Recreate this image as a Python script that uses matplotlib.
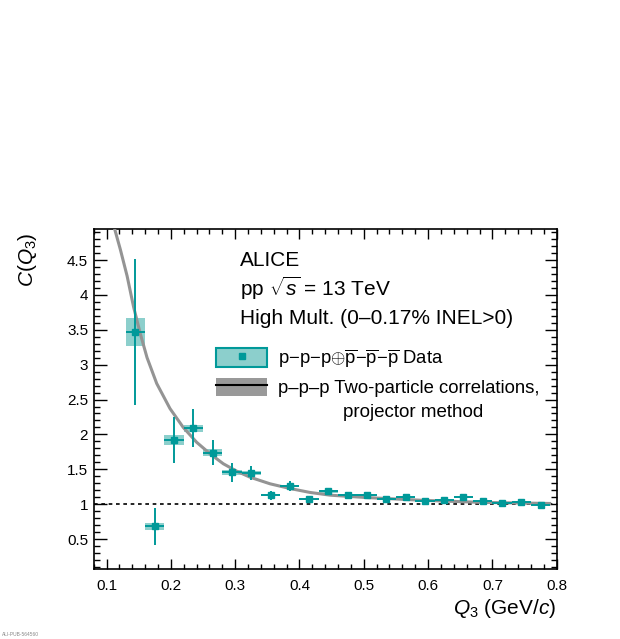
import matplotlib
matplotlib.use('Agg')
import numpy as np
from matplotlib import pyplot as plt
from matplotlib.patches import Patch
from matplotlib.lines import Line2D
from matplotlib.ticker import MultipleLocator, FuncFormatter

plt.rcParams['font.family'] = ['Liberation Sans', 'DejaVu Sans']
plt.rcParams['mathtext.fontset'] = 'custom'
plt.rcParams['mathtext.rm'] = 'Liberation Sans'
plt.rcParams['mathtext.it'] = 'Liberation Sans:italic'
plt.rcParams['mathtext.bf'] = 'Liberation Sans:bold'

# p-p-p (+) pbar-pbar-pbar data
q3 = [0.145, 0.175, 0.205, 0.235, 0.265, 0.295, 0.325, 0.355, 0.385, 0.415, 0.445,
      0.475, 0.505, 0.535, 0.565, 0.595, 0.625, 0.655, 0.685, 0.715, 0.745, 0.775]
c3 = [3.47, 0.686, 1.92, 2.09, 1.74, 1.455, 1.445, 1.13, 1.26, 1.078, 1.182,
      1.135, 1.135, 1.08, 1.105, 1.04, 1.055, 1.10, 1.045, 1.02, 1.025, 0.995]
stat = [1.05, 0.265, 0.33, 0.27, 0.18, 0.14, 0.10, 0.065, 0.065, 0.045, 0.03,
        0.025, 0.025, 0.025, 0.025, 0.02, 0.02, 0.025, 0.02, 0.02, 0.02, 0.02]
syst = [0.20, 0.05, 0.07, 0.05, 0.045, 0.03, 0.03, 0.02, 0.02, 0.015, 0.015,
        0.012, 0.012, 0.012, 0.012, 0.01, 0.01, 0.012, 0.01, 0.01, 0.01, 0.01]
bin_w = 0.03

# two-particle correlations, projector method
q3_proj = [0.112, 0.1215, 0.132, 0.142, 0.1526, 0.163, 0.178, 0.1987, 0.2193, 0.240,
           0.261, 0.2816, 0.3024, 0.323, 0.3542, 0.385, 0.4164, 0.4475, 0.504, 0.592,
           0.685, 0.789]
c3_proj = [4.965, 4.65, 4.27, 3.83, 3.44, 3.10, 2.73, 2.37, 2.10, 1.888,
           1.722, 1.579, 1.473, 1.387, 1.292, 1.225, 1.168, 1.129, 1.095, 1.055,
           1.025, 1.01]

teal = '#009999'
teal_light = '#8ccfcc'
grey = '#949494'

fig = plt.figure(figsize=(6.2, 6.39), dpi=100)
ax = fig.add_axes([0.1511, 0.1095, 0.7468, 0.5316])

ax.axhline(1, color='black', lw=1.2, ls=(0, (2.2, 2.2)), zorder=1)

c3a = np.array(c3)
systa = np.array(syst)
ax.bar(q3, 2 * systa, bottom=c3a - systa, width=bin_w, color=teal_light,
       edgecolor='none', zorder=2)
ax.plot(q3_proj, c3_proj, color=grey, lw=2.2, zorder=3)
ax.errorbar(q3, c3, xerr=bin_w / 2, yerr=stat, fmt='s', color=teal, ms=4.5,
            elinewidth=1.4, capsize=0, zorder=4)

ax.set_xlim(0.08, 0.8)
ax.set_ylim(0.07, 4.94)

fmt = FuncFormatter(lambda v, p: '%g' % round(v, 3))
ax.xaxis.set_major_locator(MultipleLocator(0.1))
ax.xaxis.set_minor_locator(MultipleLocator(0.02))
ax.yaxis.set_major_locator(MultipleLocator(0.5))
ax.yaxis.set_minor_locator(MultipleLocator(0.1))
ax.xaxis.set_major_formatter(fmt)
ax.yaxis.set_major_formatter(fmt)
ax.tick_params(which='both', direction='in', top=True, right=True, labelsize=11, width=1.0)
ax.tick_params(axis='x', which='major', length=7, pad=7)
ax.tick_params(axis='x', which='minor', length=3.5)
ax.tick_params(axis='y', which='major', length=9, pad=4)
ax.tick_params(axis='y', which='minor', length=4.5)
for s in ax.spines.values():
    s.set_linewidth(1.2)

ax.text(-0.143, 0.992, r'$C(Q_{3})$', rotation=90, ha='center', va='top',
        fontsize=15, transform=ax.transAxes)
ax.text(1.0, -0.082, r'$Q_{3}$ (GeV/$c$)', ha='right', va='top',
        fontsize=15, transform=ax.transAxes)

ax.text(0.316, 0.892, 'ALICE', fontsize=15, va='baseline', transform=ax.transAxes)
ax.text(0.316, 0.8037, r'pp $\sqrt{s}$ = 13 TeV', fontsize=15, va='baseline',
        transform=ax.transAxes)
ax.text(0.316, 0.7227, 'High Mult. (0\u20130.17% INEL>0)', fontsize=15,
        va='baseline', transform=ax.transAxes)

h_data = (Patch(facecolor=teal_light, edgecolor=teal, lw=1.5),
          Line2D([], [], marker='s', color=teal, ls='none', ms=4.5))
h_proj = (Patch(facecolor='#999999', edgecolor='none'),
          Line2D([], [], color='black', lw=1.5))
lab_data = r'p$-$p$-$p$\oplus\overline{\mathrm{p}}$$-$$\overline{\mathrm{p}}$$-$$\overline{\mathrm{p}}$ Data'
lab_proj = 'p\u2013p\u2013p Two-particle correlations,'
ax.legend([h_data, h_proj], [lab_data, lab_proj], loc='upper left',
          bbox_to_anchor=(0.2635, 0.6526), frameon=False, fontsize=13.3,
          handlelength=2.8, handleheight=1.16, handletextpad=0.57,
          labelspacing=0.42, borderpad=0, borderaxespad=0)
ax.text(0.539, 0.4483, 'projector method', fontsize=13.5, va='baseline',
        transform=ax.transAxes)

fig.text(0.003, 0.004, 'ALI-PUB-564560', fontsize=3.5, color='#888888')

fig.savefig('out.png', dpi=100)
